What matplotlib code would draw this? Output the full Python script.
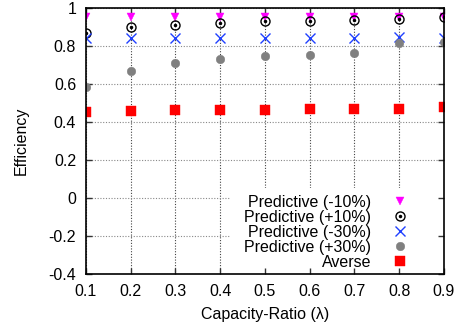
import matplotlib
matplotlib.use("Agg")
import matplotlib.pyplot as plt
from matplotlib.patches import Rectangle

plt.rcParams['font.family'] = ['Liberation Sans', 'DejaVu Sans']

lam = [0.1, 0.2, 0.3, 0.4, 0.5, 0.6, 0.7, 0.8, 0.9]
pred_m10 = [0.95, 0.95, 0.95, 0.95, 0.95, 0.95, 0.95, 0.95, 0.95]
pred_p10 = [0.87, 0.90, 0.91, 0.92, 0.93, 0.93, 0.935, 0.94, 0.95]
pred_m30 = [0.84, 0.84, 0.84, 0.84, 0.84, 0.84, 0.84, 0.845, 0.84]
pred_p30 = [0.584, 0.67, 0.71, 0.73, 0.745, 0.753, 0.765, 0.816, 0.82]
averse = [0.453, 0.458, 0.463, 0.463, 0.463, 0.47, 0.47, 0.47, 0.48]

xticks = [0.1, 0.2, 0.3, 0.4, 0.5, 0.6, 0.7, 0.8, 0.9]
yticks = [-0.4, -0.2, 0, 0.2, 0.4, 0.6, 0.8, 1.0]
ytick_labels = ['-0.4', '-0.2', '0', '0.2', '0.4', '0.6', '0.8', '1']

FS = 11.5

fig = plt.figure(figsize=(4.62, 3.31), dpi=100)
ax = fig.add_axes([0.186, 0.172, 0.775, 0.804])
ax.set_xlim(0.1, 0.9)
ax.set_ylim(-0.4, 1.0)

# grid drawn beneath
for x in xticks:
    ax.axvline(x, color='#444444', lw=0.8, ls=(0, (1, 1.5)), zorder=0.5)
for y in yticks:
    ax.axhline(y, color='#888888', lw=0.8, ls=(0, (1, 1.5)), zorder=0.5)

# opaque legend background
ax.add_patch(Rectangle((0.402, 0.0), 0.598, 0.323, transform=ax.transAxes,
                       facecolor='white', edgecolor='none', zorder=1))

h1, = ax.plot(lam, pred_m10, ls='none', marker='v', color='#ff00ff', ms=6.3, mew=0.3, zorder=3)
h2a, = ax.plot(lam, pred_p10, ls='none', marker='o', mfc='none', mec='black', mew=1.0, ms=6.5, zorder=3)
h2b, = ax.plot(lam, pred_p10, ls='none', marker='o', color='black', ms=1.5, zorder=3)
h3, = ax.plot(lam, pred_m30, ls='none', marker='x', color='#1f3fff', mew=1.0, ms=6.5, zorder=3)
h4, = ax.plot(lam, pred_p30, ls='none', marker='o', color='#808080', ms=6.2, mew=0.3, zorder=3)
h5, = ax.plot(lam, averse, ls='none', marker='s', color='#ff0000', ms=6.8, mew=0.3, zorder=3)

ax.set_xticks(xticks)
ax.set_xticklabels([f'{v:.1f}' for v in xticks])
ax.set_yticks(yticks)
ax.set_yticklabels(ytick_labels)
ax.tick_params(direction='in', length=4, width=1, top=True, right=True,
               labelsize=FS, pad=7, color='#333333')
for s in ax.spines.values():
    s.set_linewidth(1.2)
    s.set_zorder(4)

ax.set_xlabel('Capacity-Ratio (λ)', fontsize=FS, labelpad=6)
ax.set_ylabel('Efficiency', fontsize=FS, labelpad=14)

leg = ax.legend([h1, (h2a, h2b), h3, h4, h5],
                ['Predictive (-10%)', 'Predictive (+10%)', 'Predictive (-30%)',
                 'Predictive (+30%)', 'Averse'],
                loc='lower right', bbox_to_anchor=(0.93, -0.025), frameon=False,
                markerfirst=False, fontsize=FS, handlelength=1.0,
                handletextpad=1.3, labelspacing=0.0, borderpad=0.2)
for col in leg._legend_handle_box.get_children():
    col.align = 'right'
leg.set_zorder(5)

fig.savefig('out.png', dpi=100)
